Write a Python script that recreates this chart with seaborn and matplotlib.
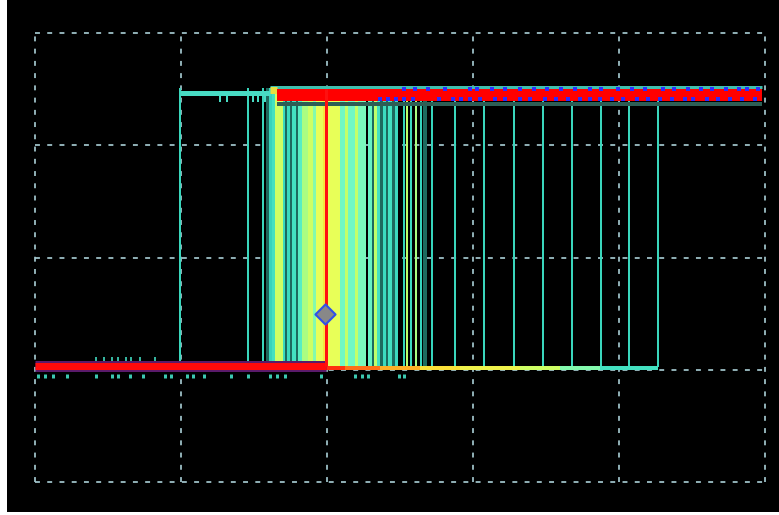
import matplotlib
matplotlib.use("Agg")
import matplotlib.pyplot as plt
from matplotlib.colors import LinearSegmentedColormap
import numpy as np
import pandas as pd
import seaborn as sns

# ---- screen: 5 horizontal x 4 vertical divisions ------------------------
x_divs = [0, 1, 2, 3, 4, 5]
y_divs = [0, 1, 2, 3, 4]

# logic levels (divisions)
low_level = 1.033
high_level = 3.448
early_high = 3.466
band_low = 1.025
band_high = 3.51

# most frequent acquisition: low, rising edge, high
low_t = [0.0, 1.993]
rise_t = 1.993
high_t = [1.658, 4.98]

# early (rare) acquisitions that are already high
early_t = [0.993, 1.61]
early_dips = [1.267, 1.315, 1.493, 1.527, 1.575]

# isolated rising edges (single hits)
edge_t = [0.993, 1.459, 1.562, 2.877, 3.075, 3.281, 3.479, 3.678, 3.877, 4.068, 4.267]

# accumulated edges around the trigger point: start, end, relative hits (-1 = faded)
band_start = [1.582, 1.603, 1.623, 1.644, 1.699, 1.712, 1.726, 1.747, 1.760, 1.788,
              1.801, 1.829, 1.870, 1.904, 1.925, 1.973, 1.986, 2.007, 2.089, 2.123,
              2.144, 2.192, 2.212, 2.281, 2.308, 2.322, 2.342, 2.363, 2.384, 2.404,
              2.418, 2.445, 2.466, 2.521, 2.541, 2.568, 2.603, 2.637, 2.658, 2.712]
band_end = [1.603, 1.623, 1.644, 1.699, 1.712, 1.726, 1.747, 1.760, 1.788, 1.801,
            1.829, 1.870, 1.904, 1.925, 1.973, 1.986, 2.007, 2.089, 2.123, 2.144,
            2.192, 2.212, 2.267, 2.308, 2.322, 2.342, 2.363, 2.384, 2.404, 2.418,
            2.445, 2.466, 2.486, 2.534, 2.555, 2.582, 2.616, 2.651, 2.685, 2.726]
band_hits = [-1, 0.0, 0.1, 0.55, 0.05, -1, 0.05, -1, 0.1, -1,
             0.2, 0.45, 0.55, 0.35, 0.62, 0.7, 0.6, 0.62, 0.3, 0.52,
             0.3, 0.52, 0.32, 0.25, -1, 0.5, 0.1, -1, 0.05, -1,
             0.1, -1, 0.05, 0.0, 0.5, 0.05, 0.45, 0.0, -1, 0.0]

# low level of late acquisitions after the trigger
tail_t = [1.993, 2.123, 2.363, 2.637, 2.911, 3.322, 3.596, 3.870, 4.267]
tail_hits = [0.95, 0.88, 0.8, 0.72, 0.66, 0.55, 0.35, 0.1]

# glitch speckles
blue_upper = [2.53, 2.60, 2.69, 2.81, 2.98, 3.03, 3.13, 3.22, 3.32, 3.42, 3.51, 3.60,
              3.70, 3.80, 3.88, 3.99, 4.09, 4.18, 4.30, 4.38, 4.47, 4.56, 4.64, 4.73,
              4.82, 4.88, 4.95]
blue_lower = [2.36, 2.42, 2.47, 2.53, 2.59, 2.77, 2.86, 2.92, 2.98, 3.05, 3.15, 3.22,
              3.32, 3.39, 3.49, 3.57, 3.65, 3.73, 3.80, 3.87, 3.95, 4.03, 4.12, 4.20,
              4.28, 4.36, 4.45, 4.51, 4.60, 4.68, 4.76, 4.84, 4.93]
low_under = [0.02, 0.07, 0.12, 0.22, 0.42, 0.53, 0.57, 0.65, 0.74, 0.89, 0.93, 1.04,
             1.08, 1.16, 1.34, 1.46, 1.61, 1.66, 1.71, 1.96, 2.19, 2.24, 2.28, 2.49, 2.53]
low_over = [0.42, 0.47, 0.53, 0.57, 0.62, 0.66, 0.72, 0.82]

# trigger marker
trig_t = [1.986]
trig_v = [1.497]

PX = 0.72  # points per pixel at 100 dpi

persist = LinearSegmentedColormap.from_list(
    "persist",
    [(0.0, "#36d4bc"), (0.15, "#4ae8c4"), (0.3, "#72f8c4"), (0.5, "#bcff6c"),
     (0.62, "#e8ff58"), (0.75, "#ffd830"), (0.88, "#ff7018"), (1.0, "#ff0808")])
faded = "#1d6a5e"
cyan = "#3ad6bc"


def hit_color(h):
    return faded if h < 0 else persist(h)


sns.set_style("dark", {"axes.facecolor": "black", "figure.facecolor": "white"})

fig = plt.figure(figsize=(7.79, 5.15), dpi=100)
ax = fig.add_axes([7 / 779, 3 / 515, 772 / 779, 512 / 515])
ax.set_facecolor("black")

# graticule
grid_kw = dict(colors="#a6cad2", lw=1.7 * PX, linestyles=[(0, (2.9, 4.3))], zorder=1)
ax.vlines(x_divs, y_divs[0], y_divs[-1], **grid_kw)
ax.hlines(y_divs, x_divs[0], x_divs[-1], **grid_kw)

# accumulated edges
for s, e, h in zip(band_start, band_end, band_hits):
    ax.fill_between([s, e], band_low, band_high, color=hit_color(h), lw=0, zorder=2)
ax.vlines(edge_t, band_low, band_high, colors=cyan, lw=2.0 * PX, zorder=2)

# early high level with small dips
sns.lineplot(x=early_t, y=[early_high, early_high], color="#48dcc4",
             lw=5 * PX, ax=ax, zorder=3, solid_capstyle="butt")
ax.vlines(early_dips, early_high - 0.08, early_high, colors="#48dcc4",
          lw=2.0 * PX, zorder=3)

# late low level
for i, h in enumerate(tail_hits):
    ax.plot(tail_t[i:i + 2], [1.016, 1.016], color=persist(h), lw=4 * PX,
            solid_capstyle="butt", zorder=3)

# high level band
ax.plot(high_t, [3.37, 3.37], color="#2d5e55", lw=4 * PX, zorder=3,
        solid_capstyle="butt")
ax.plot([1.61, 4.98], [3.52, 3.52], color="#3fbfae", lw=3 * PX, zorder=3,
        solid_capstyle="butt")
ax.plot([1.61, 1.66], [3.49, 3.49], color="#e8e040", lw=7 * PX, zorder=3,
        solid_capstyle="butt")
sns.lineplot(x=high_t, y=[high_level, high_level], color="#ff0000",
             lw=12 * PX, ax=ax, zorder=4, solid_capstyle="butt")

# low level band with fringe
ax.plot(low_t, [low_level, low_level], color="#5a1a6a", lw=11 * PX, zorder=4,
        solid_capstyle="butt")
sns.lineplot(x=low_t, y=[low_level, low_level], color="#ff0a0a",
             lw=7 * PX, ax=ax, zorder=4, solid_capstyle="butt")
ax.vlines(low_under, 0.93, 0.965, colors="#3cc8b0", lw=3 * PX, zorder=4)
ax.vlines(low_over, low_level, 1.11, colors="#3cc8b0", lw=1.8 * PX, zorder=3)

# speckles on the high level
sns.scatterplot(x=blue_upper, y=[3.505] * len(blue_upper), marker="s", s=9,
                color="#2c2cff", linewidth=0, ax=ax, zorder=5)
sns.scatterplot(x=blue_lower, y=[3.41] * len(blue_lower), marker="s", s=9,
                color="#2c2cff", linewidth=0, ax=ax, zorder=5)

# main rising edge
ax.vlines([rise_t], low_level, 3.5, colors="#ff1010", lw=3 * PX, zorder=5)

# trigger marker
sns.scatterplot(x=trig_t, y=trig_v, marker="D", s=105, color="#888888",
                edgecolor="#3050e8", linewidth=1.5, ax=ax, zorder=6)

ax.set_xlim(-0.192, 5.096)
ax.set_ylim(-0.267, 4.294)
ax.set_xticks([])
ax.set_yticks([])
for sp in ax.spines.values():
    sp.set_visible(False)

fig.savefig("out.png", dpi=100, facecolor="white")
